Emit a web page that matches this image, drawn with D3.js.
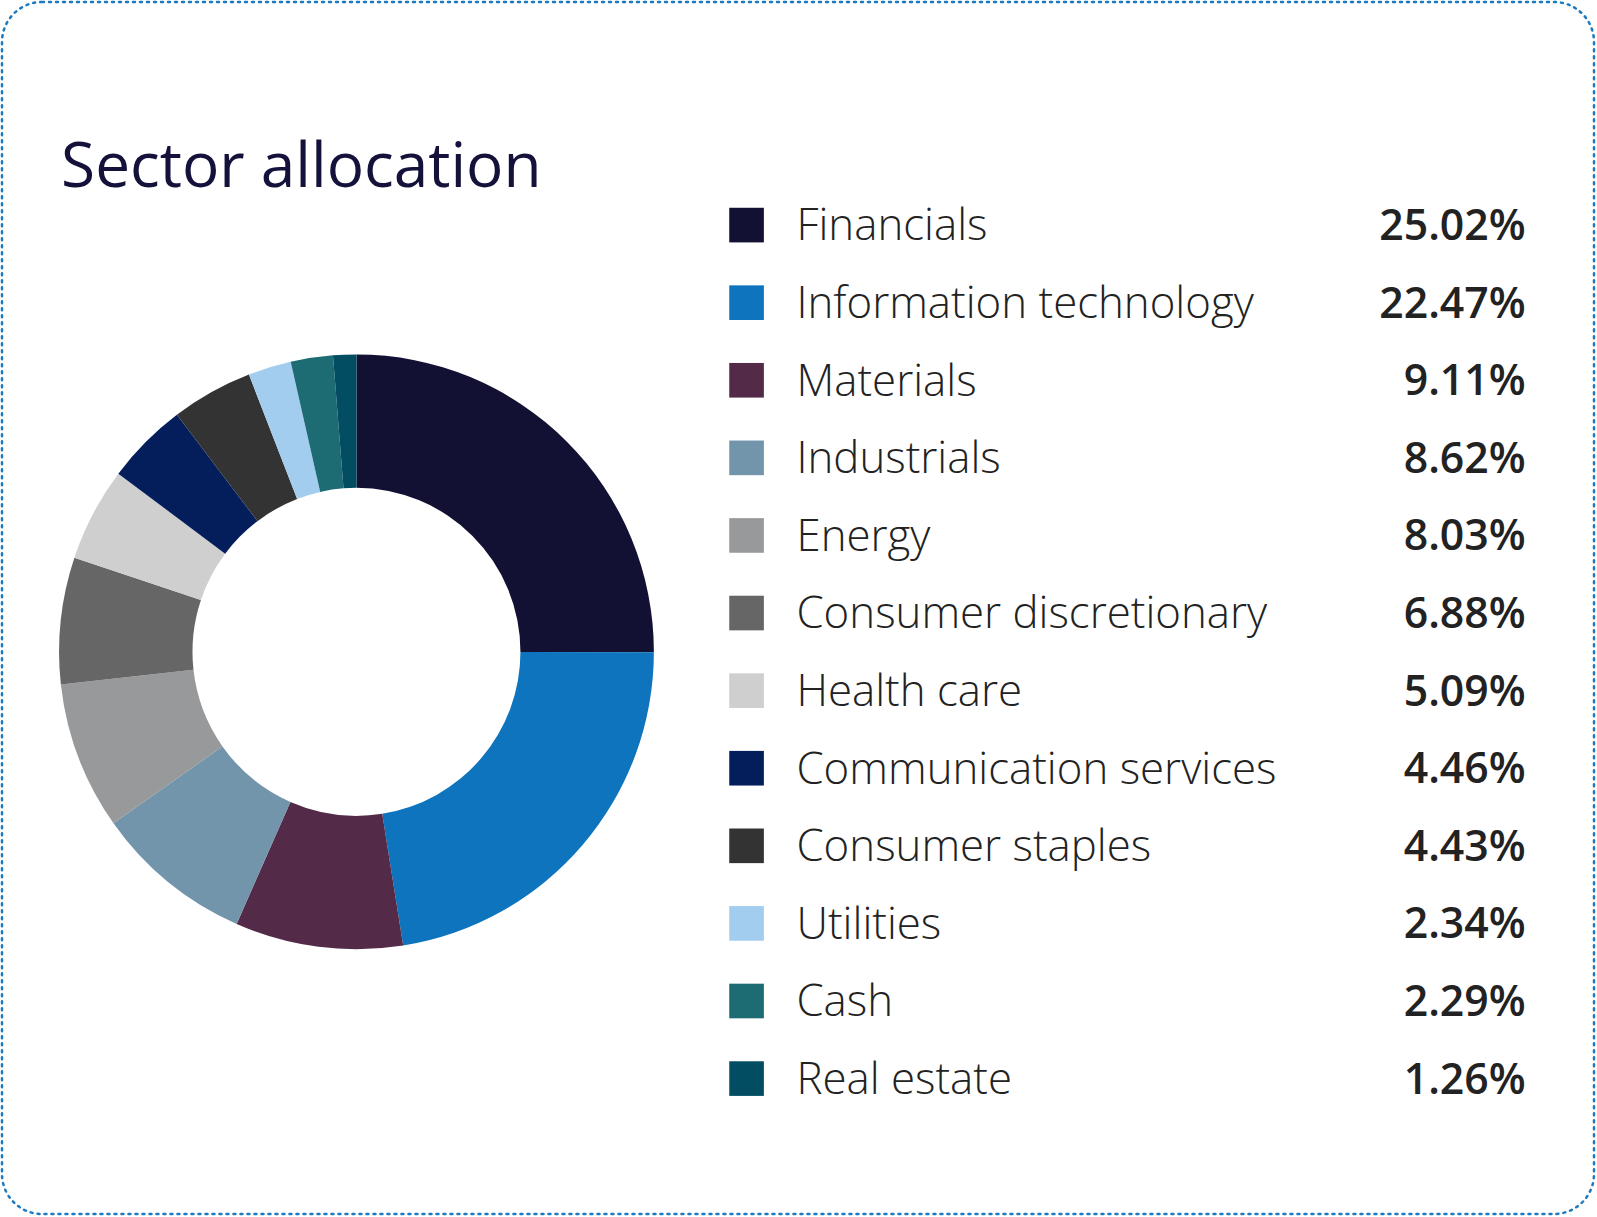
<!DOCTYPE html>
<html><head><meta charset="utf-8">
<script src="https://cdn.jsdelivr.net/npm/d3@7"></script>
<style>body{margin:0;background:#fff}</style>
</head><body><svg id="c" width="1597" height="1217"></svg>
<script>
const categories=["Financials","Information technology","Materials","Industrials","Energy","Consumer discretionary","Health care","Communication services","Consumer staples","Utilities","Cash","Real estate"];
const values=[25.02,22.47,9.11,8.62,8.03,6.88,5.09,4.46,4.43,2.34,2.29,1.26];
const colors=["#131133","#0d74bd","#532b48","#7295ab","#98999b","#666666","#cfcfcf","#041e5c","#333333","#a3cdef","#1d6b73","#034d63"];
const svg=d3.select("#c");
svg.append("rect").attr("x",2).attr("y",2).attr("width",1592).attr("height",1212).attr("rx",40)
 .attr("fill","none").attr("stroke","#1d7ac0").attr("stroke-width",2.5).attr("stroke-dasharray","2 5").attr("stroke-linecap","round");
const root=svg.append("g").attr("transform","scale(1.0185)");
root.append("text").attr("x",60).attr("y",184).text("Sector allocation")
 .attr("font-family","Open Sans, Noto Sans").attr("font-size",61).attr("fill","#14123a");
const data=categories.map((c,i)=>({c,v:values[i],col:colors[i]}));
const pie=d3.pie().sort(null).value(d=>d.v);
const arc=d3.arc().innerRadius(161).outerRadius(292);
root.append("g").attr("transform","translate(350,640)").selectAll("path").data(pie(data)).join("path")
 .attr("d",arc).attr("fill",d=>d.data.col);
const y=d3.scalePoint().domain(categories).range([221,1059]);
const g=root.append("g").selectAll("g").data(data).join("g").attr("transform",d=>`translate(0,${y(d.c)})`);
g.append("rect").attr("x",716).attr("y",-17).attr("width",34).attr("height",34).attr("fill",d=>d.col);
g.append("text").attr("x",782).attr("dy","0.35em").text(d=>d.c)
 .attr("font-family","Open Sans, Noto Sans").attr("font-weight",300).attr("font-size",43).attr("fill","#222");
g.append("text").attr("x",1498).attr("dy","0.35em").attr("text-anchor","end").text(d=>d.v.toFixed(2)+"%")
 .attr("font-family","Open Sans, Noto Sans").attr("font-weight",600).attr("font-size",42).attr("fill","#222");
</script></body></html>
